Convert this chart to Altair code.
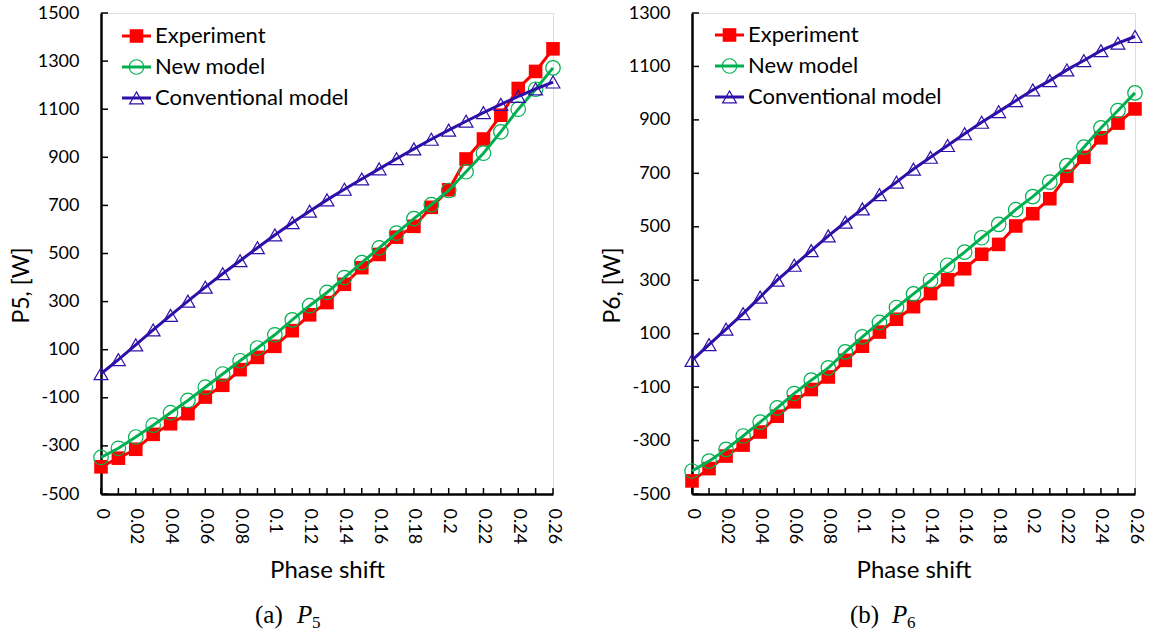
import altair as alt
import pandas as pd

phase = [0.0, 0.01, 0.02, 0.03, 0.04, 0.05, 0.06, 0.07, 0.08, 0.09, 0.1, 0.11, 0.12,
         0.13, 0.14, 0.15, 0.16, 0.17, 0.18, 0.19, 0.2, 0.21, 0.22, 0.23, 0.24, 0.25, 0.26]
series_names = ["Experiment", "New model", "Conventional model"]

p5_experiment = [-387, -351, -314, -252, -208, -166, -97, -48, 17, 68, 114, 179, 245, 296,
                 372, 441, 496, 568, 613, 692, 765, 893, 976, 1075, 1186, 1257, 1351]
p5_new = [-348, -310, -263, -214, -162, -111, -56, -1, 54, 107, 162, 224, 283, 338,
          400, 462, 523, 585, 645, 703, 762, 840, 917, 1006, 1100, 1183, 1272]
p5_conv = [0, 59, 120, 182, 243, 302, 360, 416, 470, 524, 577, 628, 676, 723,
           767, 810, 852, 894, 935, 975, 1013, 1050, 1086, 1120, 1153, 1184, 1213]

p6_experiment = [-451, -405, -358, -317, -268, -209, -155, -109, -62, 0, 53, 106, 154, 201,
                 250, 302, 343, 397, 434, 503, 549, 605, 689, 760, 833, 888, 941]
p6_new = [-414, -377, -333, -283, -231, -178, -124, -74, -28, 32, 88, 142, 198, 249,
          299, 356, 405, 459, 509, 564, 613, 667, 729, 798, 870, 935, 1001]
p6_conv = [0, 59, 117, 175, 237, 300, 356, 411, 466, 517, 567, 620, 667, 716,
           760, 804, 848, 891, 931, 972, 1012, 1047, 1087, 1122, 1159, 1187, 1212]

colors = ["#FF0000", "#00B050", "#2E10A8"]
shapes = ["square", "circle", "triangle-up"]
filled = [True, False, False]
sizes = [185, 210, 190]

FONT = "Lato"
SERIF = "Liberation Serif"


def make_df(vals_list):
    rows = []
    for name, vals in zip(series_names, vals_list):
        for x, v in zip(phase, vals):
            rows.append({"phase": x, "power": v, "series": name})
    return pd.DataFrame(rows)


def panel(vals_list, ymin, ymax, ytitle, cap_letter, cap_sub, W, H, leg_x, leg_y0, cap_x):
    df = make_df(vals_list)
    xs = alt.Scale(domain=[0, 0.26], nice=False, zero=False)
    ys = alt.Scale(domain=[ymin, ymax], nice=False, zero=False)
    x_axis = alt.Axis(
        values=phase,
        labelExpr="round(datum.value*100) % 2 == 0 ? format(datum.value, '~g') : ''",
        labelAngle=90, labelFontSize=18, labelFont=FONT, labelColor="black",
        labelPadding=14, labelOverlap=False, labelFlush=False,
        ticks=False, grid=False, domainColor="black", domainWidth=2.5,
        title="Phase shift", titleFont=FONT, titleFontSize=24,
        titleFontWeight="normal", titleColor="black", titlePadding=15)
    y_axis = alt.Axis(
        values=list(range(ymin, ymax + 1, 200)),
        labelExpr="'' + datum.value",
        labelFontSize=18, labelFont=FONT, labelColor="black", labelPadding=22,
        labelOverlap=False, labelFlush=False,
        ticks=False, grid=False, domainColor="black", domainWidth=2.5,
        title=ytitle, titleFont=FONT, titleFontSize=23, titleFontWeight="normal",
        titleColor="black", titleX=-80, titleY=272, titleAngle=-90,
        titleAlign="center", titleBaseline="middle")
    x_enc = alt.X("phase:Q", scale=xs, axis=x_axis, title="Phase shift")
    y_enc = alt.Y("power:Q", scale=ys, axis=y_axis, title=ytitle)

    layers = []
    for name, c, sh, f, sz in zip(series_names, colors, shapes, filled, sizes):
        base = alt.Chart(df).transform_filter(alt.datum.series == name)
        layers.append(base.mark_line(color=c, strokeWidth=3).encode(x=x_enc, y=y_enc))
        layers.append(base.mark_point(shape=sh, filled=f, color=c, size=sz, opacity=1,
                                      strokeWidth=1.2).encode(x=x_enc, y=y_enc))

    # inside tick marks (same field names so the axes merge)
    xt = pd.DataFrame({"phase": phase})
    layers.append(alt.Chart(xt).mark_rule(color="black", strokeWidth=1.5).encode(
        x=x_enc, y=alt.value(H), y2=alt.value(H - 6)))
    yt = pd.DataFrame({"power": list(range(ymin, ymax + 1, 200))})
    layers.append(alt.Chart(yt).mark_rule(color="black", strokeWidth=1.5).encode(
        y=y_enc, x=alt.value(0), x2=alt.value(7)))

    # legend
    for i, (name, c, sh, f, sz) in enumerate(zip(series_names, colors, shapes, filled, sizes)):
        ld = pd.DataFrame({"series": [name]})
        yy = leg_y0 + i * 31
        layers.append(alt.Chart(ld).mark_rule(color=c, strokeWidth=3).encode(
            x=alt.value(leg_x), x2=alt.value(leg_x + 29), y=alt.value(yy)))
        layers.append(alt.Chart(ld).mark_point(shape=sh, filled=f, color=c, size=sz,
                                               opacity=1, strokeWidth=1.2).encode(
            x=alt.value(leg_x + 14.5), y=alt.value(yy)))
        layers.append(alt.Chart(ld).mark_text(align="left", baseline="middle", font=FONT,
                                              fontSize=22, color="black").encode(
            x=alt.value(leg_x + 33), y=alt.value(yy), text="series:N"))

    # caption
    cd1 = pd.DataFrame({"t": [cap_letter]})
    cd2 = pd.DataFrame({"t": ["P"]})
    cd3 = pd.DataFrame({"t": [cap_sub]})
    layers.append(alt.Chart(cd1).mark_text(align="left", baseline="alphabetic", font=SERIF,
                                           fontSize=25, color="black").encode(
        x=alt.value(cap_x), y=alt.value(H + 129), text="t:N"))
    layers.append(alt.Chart(cd2).mark_text(align="left", baseline="alphabetic", font=SERIF,
                                           fontSize=25, fontStyle="italic", color="black").encode(
        x=alt.value(cap_x + 42), y=alt.value(H + 129), text="t:N"))
    layers.append(alt.Chart(cd3).mark_text(align="left", baseline="alphabetic", font=SERIF,
                                           fontSize=17, color="black").encode(
        x=alt.value(cap_x + 57), y=alt.value(H + 134), text="t:N"))

    return alt.layer(*layers).properties(width=W, height=H)


left = panel([p5_experiment, p5_new, p5_conv], -500, 1500, "P5, [W]", "(a)", "5",
             452, 481, 21, 23, 154)
right = panel([p6_experiment, p6_new, p6_conv], -500, 1300, "P6, [W]", "(b)", "6",
              443, 481, 23, 22, 158)

chart = alt.hconcat(left, right, spacing=36).properties(
    padding={"left": 9, "top": 3, "right": 2, "bottom": 2}
).configure_view(stroke=None).configure(font=FONT)

chart.save("out.html", embed_options={"renderer": "svg", "actions": False})
